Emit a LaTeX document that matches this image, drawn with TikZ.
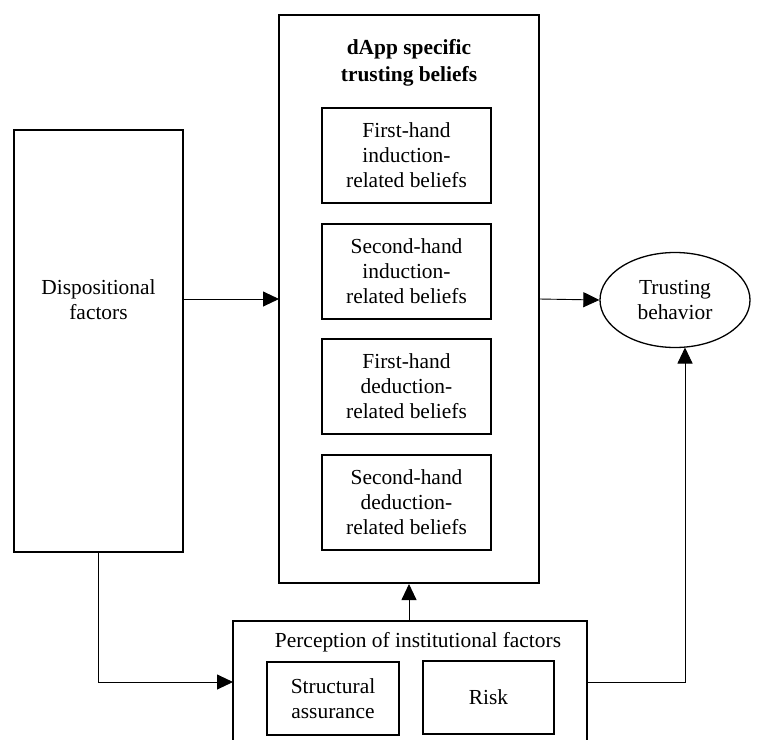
\documentclass[tikz,border=0pt]{standalone}
\usepackage{fontspec}
\setmainfont{Liberation Serif}
\usetikzlibrary{arrows.meta,shapes.geometric}
\begin{document}
\begin{tikzpicture}[x=1bp,y=-1bp,
  box/.style={draw,line width=1.3bp,rectangle,inner sep=0pt},
  txt/.style={align=center,font=\fontsize{21.5}{25}\selectfont,inner sep=0pt},
  belief/.style={box,txt,minimum width=169bp,minimum height=95bp},
  conn/.style={line width=0.9bp,-{Triangle[length=16bp,width=15bp]}}]
\useasboundingbox (0,0) rectangle (758,740);

% central block of trusting beliefs
\node[box,minimum width=260bp,minimum height=568bp] (dapp) at (409,299) {};
\node[txt,font=\bfseries\fontsize{21.5}{27}\selectfont] (title) at (409,63) {dApp specific\\trusting beliefs};
\node[belief] (b1) at (406.5,155.5) {First-hand\\induction-\\related beliefs};
\node[belief] (b2) at (406.5,271.5) {Second-hand\\induction-\\related beliefs};
\node[belief] (b3) at (406.5,386.5) {First-hand\\deduction-\\related beliefs};
\node[belief] (b4) at (406.5,502.5) {Second-hand\\deduction-\\related beliefs};

% dispositional factors
\node[box,minimum width=169bp,minimum height=422bp] (disp) at (98.5,341) {};
\node[txt] (disptxt) at (98.5,300) {Dispositional\\factors};

% outcome
\node[draw,line width=1.3bp,ellipse,minimum width=150bp,minimum height=95bp,inner sep=0pt,txt] (trust) at (675,300) {Trusting\\behavior};

% institutional factors
\node[box,minimum width=354bp,minimum height=130bp] (inst) at (410,686) {};
\node[txt] (insttxt) at (418,642) {Perception of institutional factors};
\node[box,txt,minimum width=132bp,minimum height=73bp] (sa) at (333,698.5) {Structural\\assurance};
\node[box,txt,minimum width=131bp,minimum height=73bp] (risk) at (488.5,697.5) {Risk};

% connectors
\coordinate (dispout) at (183,299);
\coordinate (dappin) at (279,299);
\draw[conn] (dispout) -- (dappin);
\coordinate (dappout) at (539,299);
\draw[conn] (dappout) -- (trust.west);
\coordinate (insttop) at (409,621);
\coordinate (dappbot) at (409,584);
\draw[conn] (insttop) -- (dappbot);
\coordinate (dispbot) at (98,552);
\coordinate (instleft) at (233,682);
\draw[conn] (dispbot) |- (instleft);
\coordinate (instright) at (587,682);
\coordinate (trustbot) at (685,347.5);
\draw[conn] (instright) -| (trustbot);
\end{tikzpicture}
\end{document}
